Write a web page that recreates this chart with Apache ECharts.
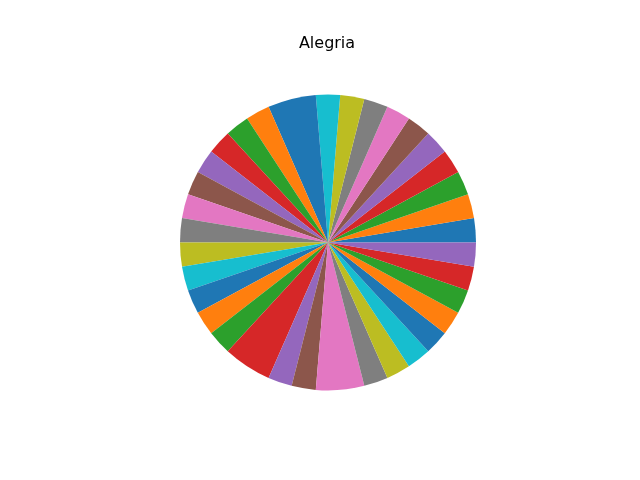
<!DOCTYPE html>
<html><head><meta charset="utf-8">
<script src="https://cdn.jsdelivr.net/npm/echarts@6/dist/echarts.min.js"></script>
<style>html,body{margin:0;padding:0;background:#fff}#c{width:640px;height:480px}</style>
</head><body><div id="c"></div>
<script>
const title = "Alegria";
const categories = ["1","2","3","4","5","6","7","8","9","10","11","12","13","14","15","16","17","18","19","20","21","22","23","24","25","26","27","28","29","30","31","32","33","34","35"];
const values = [1,1,1,1,1,1,1,1,1,1,2,1,1,1,1,1,1,1,1,1,1,1,1,2,1,1,2,1,1,1,1,1,1,1,1];
const palette = ["#1f77b4","#ff7f0e","#2ca02c","#d62728","#9467bd","#8c564b","#e377c2","#7f7f7f","#bcbd22","#17becf"];
const chart = echarts.init(document.getElementById('c'), null, {renderer:'canvas'});
chart.setOption({
  animation:false,
  backgroundColor:'#ffffff',
  color: palette,
  title:{text:title,left:322,textAlign:'center',top:31,textStyle:{fontFamily:'DejaVu Sans',fontSize:16,fontWeight:'normal',color:'#000'}},
  series:[{
    type:'pie',
    center:[328,242.4],
    radius:[0,148],
    startAngle:0,
    clockwise:false,
    label:{show:false},
    labelLine:{show:false},
    emphasis:{disabled:true},
    itemStyle:{borderWidth:0},
    minAngle:0,
    avoidLabelOverlap:false,
    data: categories.map((c,i)=>({name:c,value:values[i]}))
  }]
});
</script></body></html>
